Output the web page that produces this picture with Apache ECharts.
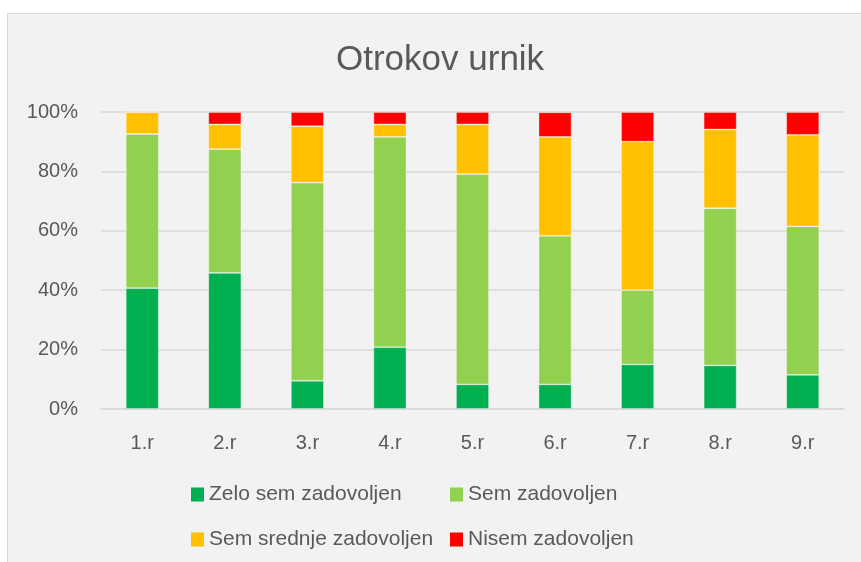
<!DOCTYPE html>
<html>
<head>
<meta charset="utf-8">
<script src="https://cdn.jsdelivr.net/npm/echarts@6/dist/echarts.min.js"></script>
<style>
  html, body { margin: 0; padding: 0; background: #ffffff; }
  #chart { width: 861px; height: 562px; }
</style>
</head>
<body>
<div id="chart"></div>
<script>
const categories = ['1.r', '2.r', '3.r', '4.r', '5.r', '6.r', '7.r', '8.r', '9.r']
const zeloSem = [40.7, 45.8, 9.5, 20.8, 8.3, 8.3, 15.0, 14.7, 11.5]
const sem = [51.9, 41.7, 66.7, 70.8, 70.8, 50.0, 25.0, 52.9, 50.0]
const srednje = [7.4, 8.3, 19.0, 4.2, 16.7, 33.3, 50.0, 26.5, 30.8]
const nisem = [0, 4.2, 4.8, 4.2, 4.2, 8.3, 10.0, 5.9, 7.7]
const yTicks = [0, 20, 40, 60, 80, 100]

const font = "'Liberation Sans', Arial, sans-serif"
const grey = '#595959'

const myChart = echarts.init(document.getElementById('chart'))

function bar(name, data, color) {
  return {
    name: name,
    type: 'bar',
    stack: 'total',
    barWidth: 33,
    data: data,
    itemStyle: { color: color, borderColor: 'rgba(255,255,255,0.45)', borderWidth: 0.8 },
  }
}

const legendText = { color: grey, fontSize: 21, fontFamily: font, lineHeight: 21 }

const option = {
  backgroundColor: '#ffffff',
  animation: false,
  graphic: [{
    type: 'rect',
    z: -100,
    shape: { x: 7.5, y: 13.5, width: 900, height: 600 },
    style: { fill: '#f2f2f2', stroke: '#d9d9d9', lineWidth: 1 },
  }],
  title: {
    text: 'Otrokov urnik',
    left: 331,
    top: 38,
    textStyle: { color: grey, fontSize: 35, fontWeight: 'normal', fontFamily: font },
  },
  legend: [{
    data: ['Zelo sem zadovoljen', 'Sem srednje zadovoljen'],
    orient: 'vertical',
    left: 191,
    top: 484,
    padding: 0,
    itemGap: 24,
    itemWidth: 13,
    itemHeight: 14,
    itemStyle: { borderWidth: 0 },
    icon: 'rect',
    textStyle: legendText,
  }, {
    data: ['Sem zadovoljen', 'Nisem zadovoljen'],
    orient: 'vertical',
    left: 450,
    top: 484,
    padding: 0,
    itemGap: 24,
    itemWidth: 13,
    itemHeight: 14,
    itemStyle: { borderWidth: 0 },
    icon: 'rect',
    textStyle: legendText,
  }],
  grid: { left: 101, right: 17, top: 112, bottom: 153 },
  xAxis: {
    type: 'category',
    data: categories,
    axisLine: { lineStyle: { color: '#d9d9d9', width: 1.5 } },
    axisTick: { show: false },
    axisLabel: { color: grey, fontSize: 20, fontFamily: font, margin: 24 },
  },
  yAxis: {
    type: 'value',
    min: yTicks[0],
    max: yTicks[yTicks.length - 1],
    interval: 20,
    axisLine: { show: false },
    axisTick: { show: false },
    splitLine: { lineStyle: { color: '#d9d9d9', width: 1.5 } },
    axisLabel: { color: grey, fontSize: 20, fontFamily: font, margin: 23, formatter: '{value}%' },
  },
  series: [
    bar('Zelo sem zadovoljen', zeloSem, '#00b050'),
    bar('Sem zadovoljen', sem, '#92d050'),
    bar('Sem srednje zadovoljen', srednje, '#ffc000'),
    bar('Nisem zadovoljen', nisem, '#ff0000'),
  ],
}

myChart.setOption(option)
</script>
</body>
</html>
